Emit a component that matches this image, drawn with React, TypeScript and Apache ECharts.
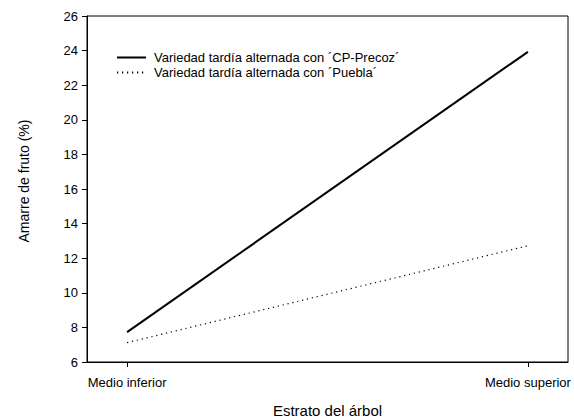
import React, { useEffect, useRef } from "react";
import * as echarts from "echarts";

const categories = ["Medio inferior", "Medio superior"];
const seriesNames = [
  "Variedad tardía alternada con ´CP-Precoz´",
  "Variedad tardía alternada con ´Puebla´",
];
const cpPrecoz = [7.73, 23.93];
const puebla = [7.12, 12.72];
const yTicks = { min: 6, max: 26, interval: 2 };

const FONT = "'Liberation Sans', Arial, sans-serif";

export default function App() {
  const ref = useRef<HTMLDivElement>(null);
  useEffect(() => {
    document.body.style.margin = "0";
    if (!ref.current) return;
    const chart = echarts.init(ref.current, undefined, { renderer: "svg" });
    const toPairs = (arr: number[]) => arr.map((v, i) => [i, v]);
    chart.setOption({
      animation: false,
      backgroundColor: "#fff",
      textStyle: { fontFamily: FONT, color: "#000" },
      grid: {
        left: 87,
        right: 6,
        top: 16,
        bottom: 56,
        show: true,
        borderColor: "#000",
        borderWidth: 1,
        containLabel: false,
        outerBoundsMode: "none",
      },
      legend: {
        orient: "vertical",
        left: 116,
        top: 51,
        itemWidth: 29,
        itemHeight: 14,
        itemGap: 2,
        padding: 0,
        itemStyle: { opacity: 0 },
        textStyle: { fontSize: 13, fontFamily: FONT, color: "#000", padding: [0, 0, 0, 3] },
        data: seriesNames,
      },
      xAxis: {
        type: "value",
        min: -0.1,
        max: 1.1,
        name: "Estrato del árbol",
        nameLocation: "middle",
        nameGap: 41,
        nameTextStyle: { fontSize: 15, fontFamily: FONT, color: "#000" },
        axisLine: { onZero: false, lineStyle: { color: "#000", width: 1 } },
        axisTick: { show: true, customValues: [0, 1], length: 5, lineStyle: { color: "#000" } },
        axisLabel: {
          customValues: [0, 1],
          formatter: (v: number) => categories[Math.round(v)] ?? "",
          fontSize: 13,
          fontFamily: FONT,
          color: "#000",
          margin: 14,
        },
        splitLine: { show: false },
      },
      yAxis: {
        type: "value",
        min: yTicks.min,
        max: yTicks.max,
        interval: yTicks.interval,
        name: "Amarre de fruto (%)",
        nameLocation: "middle",
        nameGap: 56,
        nameTextStyle: { fontSize: 14, fontFamily: FONT, color: "#000", padding: [0, 0, 0, 16] },
        axisLine: { show: true, onZero: false, lineStyle: { color: "#000", width: 1 } },
        axisTick: { show: true, length: 5, lineStyle: { color: "#000" } },
        axisLabel: { fontSize: 13, fontFamily: FONT, color: "#000", margin: 9 },
        splitLine: { show: false },
      },
      series: [
        {
          name: seriesNames[0],
          type: "line",
          data: toPairs(cpPrecoz),
          symbol: "none",
          lineStyle: { color: "#000", width: 2, type: "solid" },
          itemStyle: { color: "#000" },
        },
        {
          name: seriesNames[1],
          type: "line",
          data: toPairs(puebla),
          symbol: "none",
          lineStyle: { color: "#000", width: 1.2, type: [1.2, 3.8] },
          itemStyle: { color: "#000" },
        },
      ],
    });
    return () => chart.dispose();
  }, []);
  return <div ref={ref} style={{ width: 574, height: 418 }} />;
}
